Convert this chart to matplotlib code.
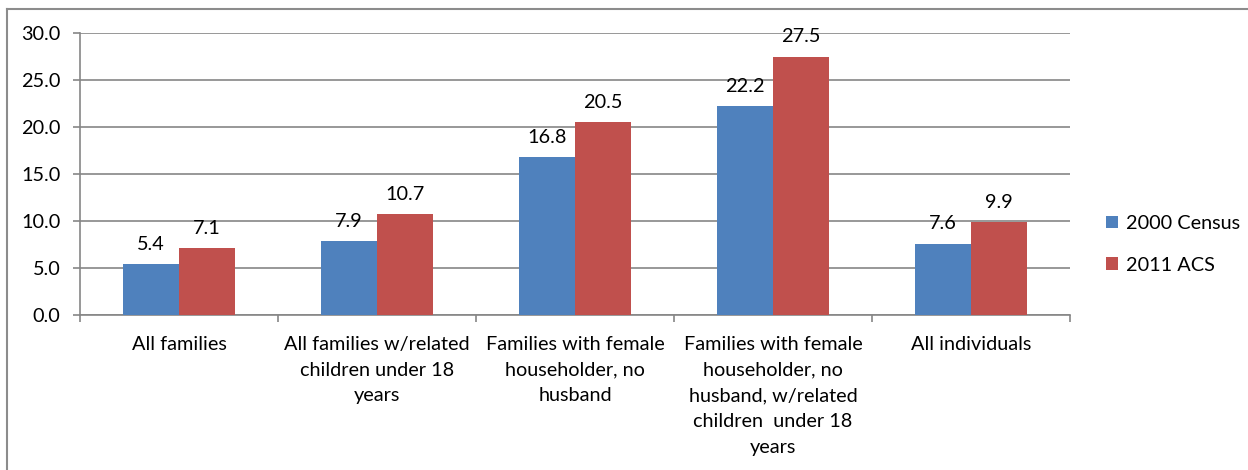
import matplotlib
matplotlib.use("Agg")
import matplotlib.pyplot as plt
from matplotlib.lines import Line2D
import numpy as np

categories = [
    "All families",
    "All families w/related\nchildren under 18\nyears",
    "Families with female\nhouseholder, no\nhusband",
    "Families with female\nhouseholder, no\nhusband, w/related\nchildren  under 18\nyears",
    "All individuals",
]
census_2000 = [5.4, 7.9, 16.8, 22.2, 7.6]
acs_2011 = [7.1, 10.7, 20.5, 27.5, 9.9]
series_names = ["2000 Census", "2011 ACS"]
yticks = [0, 5, 10, 15, 20, 25, 30]

BLUE = "#4F81BD"
RED = "#C0504D"
GRID = "#868686"
FS = 14.3

plt.rcParams["font.family"] = ["Lato", "DejaVu Sans"]
W, H = 1248, 470
fig = plt.figure(figsize=(W / 100, H / 100), dpi=100)
ax = fig.add_axes([80 / W, 1 - 315 / H, 990 / W, 282 / H])

x = np.arange(len(categories))
bw = 0.285
b1 = ax.bar(x - bw / 2, census_2000, bw, color=BLUE, label=series_names[0], zorder=3)
b2 = ax.bar(x + bw / 2, acs_2011, bw, color=RED, label=series_names[1], zorder=3)
for bars, vals in ((b1, census_2000), (b2, acs_2011)):
    for r, v in zip(bars, vals):
        ax.annotate(f"{v:.1f}", (r.get_x() + r.get_width() / 2, v),
                    xytext=(0, 8), textcoords="offset points",
                    ha="center", va="bottom", fontsize=FS, color="black")

ax.set_xlim(-0.5, len(categories) - 0.5)
ax.set_ylim(0, 30)
ax.set_yticks(yticks)
ax.set_yticklabels([f"{t:.1f}" for t in yticks], fontsize=FS)
ax.yaxis.grid(True, color=GRID, linewidth=1.2, zorder=0)
ax.set_xticks(x)
ax.set_xticklabels(categories, fontsize=FS, linespacing=1.62)
ax.tick_params(axis="x", length=0, pad=15)
ax.set_xticks(np.arange(-0.5, len(categories)), minor=True)
ax.tick_params(axis="x", which="minor", length=5, color=GRID, width=1.2)
ax.tick_params(axis="y", length=5, color=GRID, width=1.2, pad=9)
for s in ("top", "right"):
    ax.spines[s].set_visible(False)
for s in ("left", "bottom"):
    ax.spines[s].set_color(GRID)
    ax.spines[s].set_linewidth(1.2)

leg = fig.legend(handles=[b1, b2], labels=series_names, loc="upper left",
                 bbox_to_anchor=(1088 / W, 1 - 197 / H), frameon=False,
                 fontsize=FS, handlelength=0.6, handleheight=0.6,
                 handletextpad=0.4, labelspacing=1.25)

fig.add_artist(Line2D([7 / W, 1], [1 - 9 / H, 1 - 9 / H], color="#8c8c8c", linewidth=1.5,
                      transform=fig.transFigure))
fig.add_artist(Line2D([7 / W, 7 / W], [1 - 9 / H, 0], color="#8c8c8c", linewidth=1.5,
                      transform=fig.transFigure))

fig.savefig("out.png", dpi=100)
